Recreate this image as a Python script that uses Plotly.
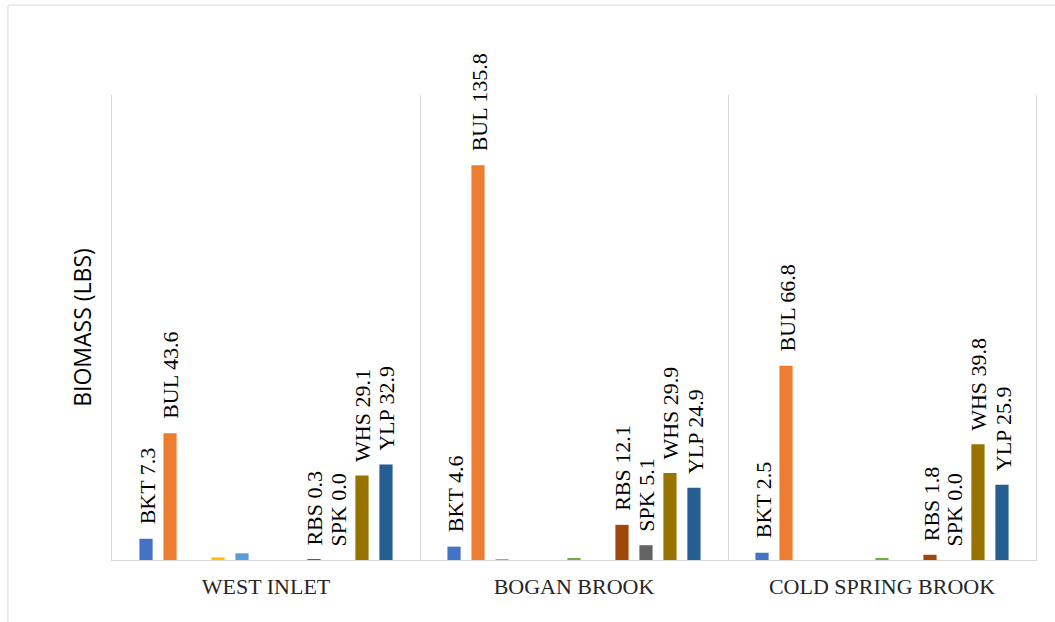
import plotly.graph_objects as go

sites = ["WEST INLET", "BOGAN BROOK", "COLD SPRING BROOK"]
species = ["BKT", "BUL", "CCF", "EEL", "GSF", "LMB", "PKS", "RBS", "SPK", "WHS", "YLP"]
labeled = ["BKT", "BUL", "RBS", "SPK", "WHS", "YLP"]

BKT = [7.3, 4.6, 2.5]
BUL = [43.6, 135.8, 66.8]
CCF = [0.0, 0.3, 0.0]
EEL = [0.9, 0.0, 0.0]
GSF = [2.3, 0.0, 0.0]
LMB = [0.0, 0.4, 0.4]
PKS = [0.0, 0.0, 0.0]
RBS = [0.3, 12.1, 1.8]
SPK = [0.0, 5.1, 0.0]
WHS = [29.1, 29.9, 39.8]
YLP = [32.9, 24.9, 25.9]

values = {"BKT": BKT, "BUL": BUL, "CCF": CCF, "EEL": EEL, "GSF": GSF, "LMB": LMB,
          "PKS": PKS, "RBS": RBS, "SPK": SPK, "WHS": WHS, "YLP": YLP}
colors = ["#4472C4", "#ED7D31", "#A5A5A5", "#FFC000", "#5B9BD5", "#70AD47",
          "#264478", "#9E480E", "#636363", "#997300", "#255E91"]

# layout geometry (pixels)
W, H = 1055, 622
ML, MR, MT, MB = 112, 19, 95, 62
plot_w = W - ML - MR
cat_w = plot_w / len(sites)
bargap = 0.143
slot_w = cat_w * (1 - bargap) / len(species)

SERIF = "Liberation Serif, Times New Roman, serif"

fig = go.Figure()
annotations = []
for i, (sp, col) in enumerate(zip(species, colors)):
    vals = values[sp]
    fig.add_trace(go.Bar(
        name=sp, x=sites, y=vals, marker=dict(color=col, line=dict(width=0)),
    ))
    if sp in labeled:
        shift = (i - (len(species) - 1) / 2) * slot_w + 1
        for s, v in zip(sites, vals):
            annotations.append(dict(
                x=s, y=v, xref="x", yref="y", text=f"{sp} {v:.1f}", showarrow=False,
                textangle=-90, xanchor="center", yanchor="bottom", xshift=shift, yshift=12,
                font=dict(family=SERIF, size=22, color="#000000"),
            ))

fig.update_layout(
    width=W, height=H,
    margin=dict(l=ML, r=MR, t=MT, b=MB),
    paper_bgcolor="white", plot_bgcolor="white",
    barmode="group", bargap=bargap, bargroupgap=0.45,
    showlegend=False,
    annotations=annotations,
    xaxis=dict(
        type="category", tickson="boundaries", showgrid=True, gridcolor="#D9D9D9", gridwidth=1,
        ticks="", showline=True, linecolor="#D9D9D9", linewidth=1,
        tickfont=dict(family=SERIF, size=22, color="#262626"),
        ticklabelstandoff=7,
    ),
    yaxis=dict(
        range=[0, 160], showgrid=False, showticklabels=False, ticks="", zeroline=False,
        showline=True, linecolor="#D9D9D9", linewidth=1, mirror=True,
        title=dict(text="BIOMASS (LBS)", standoff=12,
                   font=dict(family="Open Sans, Liberation Sans, sans-serif", size=23, color="#000000")),
    ),
    shapes=[dict(type="rect", xref="paper", yref="paper", x0=-0.1126, x1=1.05, y0=-0.2, y1=1.1935,
                 line=dict(color="#D9D9D9", width=1), fillcolor="rgba(0,0,0,0)", layer="below")],
)

fig.write_html("out.html")
